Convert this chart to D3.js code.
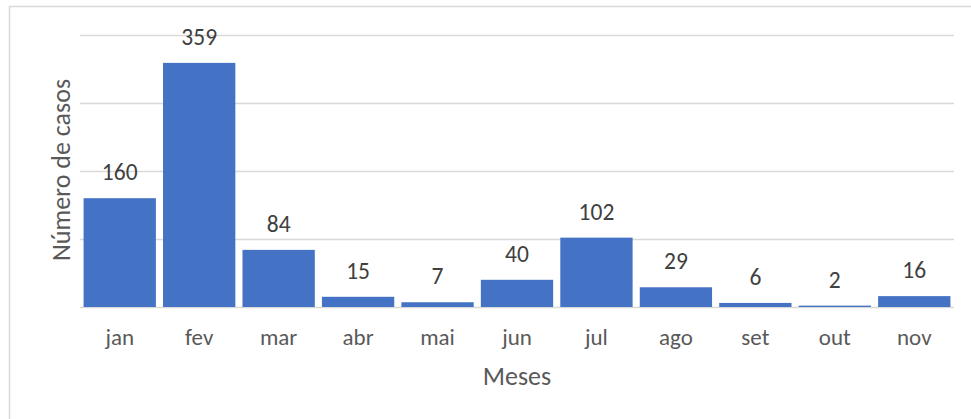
<!DOCTYPE html>
<html>
<head>
<meta charset="utf-8">
<script src="https://cdn.jsdelivr.net/npm/d3@7"></script>
<style>
  body { margin: 0; background: #fff; }
  text { font-family: Carlito, Calibri, Lato, sans-serif; }
</style>
</head>
<body>
<div id="chart"></div>
<script>
const months = ["jan", "fev", "mar", "abr", "mai", "jun", "jul", "ago", "set", "out", "nov"];
const cases = [160, 359, 84, 15, 7, 40, 102, 29, 6, 2, 16];
const yTicks = [0, 100, 200, 300, 400];
const xTitle = "Meses";
const yTitle = "Número de casos";

const W = 971, H = 419;
const barColor = "#4472C4";
const gridColor = "#D9D9D9";

const svg = d3
  .select("#chart")
  .append("svg")
  .attr("width", W)
  .attr("height", H);

// chart area border (bottom/right run off the crop)
svg
  .append("rect")
  .attr("x", 9.5)
  .attr("y", 6.5)
  .attr("width", W + 20)
  .attr("height", H + 20)
  .attr("fill", "none")
  .attr("stroke", gridColor)
  .attr("stroke-width", 1.5);

const x = d3
  .scaleBand()
  .domain(months)
  .range([80, 954])
  .paddingInner(0.09)
  .paddingOuter(0.045);

const y = d3.scaleLinear().domain([0, 400]).range([307, 35]);

// gridlines
svg
  .append("g")
  .attr("class", "grid")
  .selectAll("line")
  .data(yTicks)
  .join("line")
  .attr("x1", 80)
  .attr("x2", 954)
  .attr("y1", (d) => Math.round(y(d)) + 0.5)
  .attr("y2", (d) => Math.round(y(d)) + 0.5)
  .attr("stroke", gridColor)
  .attr("stroke-width", 1.5);

// bars
svg
  .append("g")
  .selectAll("rect")
  .data(cases)
  .join("rect")
  .attr("x", (d, i) => x(months[i]))
  .attr("width", x.bandwidth())
  .attr("y", (d) => y(d))
  .attr("height", (d) => y(0) - y(d))
  .attr("fill", barColor);

// data labels
svg
  .append("g")
  .attr("text-anchor", "middle")
  .attr("font-size", 23.5)
  .attr("fill", "#404040")
  .selectAll("text")
  .data(cases)
  .join("text")
  .attr("x", (d, i) => x(months[i]) + x.bandwidth() / 2)
  .attr("y", (d) => y(d) - 18)
  .text((d) => d);

// x axis labels
const xAxis = svg
  .append("g")
  .attr("transform", "translate(0,307)")
  .call(d3.axisBottom(x).tickSize(0).tickPadding(0));
xAxis.select(".domain").remove();
xAxis
  .selectAll("text")
  .attr("dy", null)
  .attr("y", 38)
  .attr("font-size", 23)
  .attr("fill", "#595959")
  .style("font-family", "Carlito, Calibri, Lato, sans-serif");

// axis titles
svg
  .append("text")
  .attr("x", 517)
  .attr("y", 385)
  .attr("text-anchor", "middle")
  .attr("font-size", 26)
  .attr("fill", "#595959")
  .text(xTitle);

svg
  .append("text")
  .attr("transform", "translate(70,170) rotate(-90)")
  .attr("text-anchor", "middle")
  .attr("font-size", 26)
  .attr("fill", "#595959")
  .text(yTitle);
</script>
</body>
</html>
